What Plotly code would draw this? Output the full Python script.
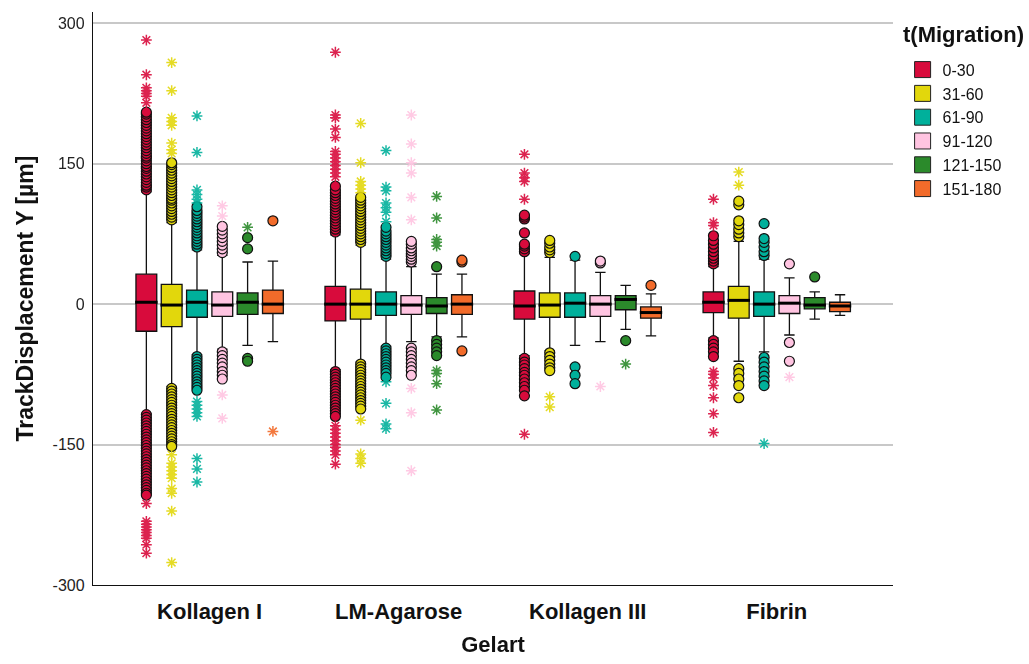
import plotly.graph_objects as go

# ---------------- data ----------------
CATEGORIES = ["Kollagen I", "LM-Agarose", "Kollagen III", "Fibrin"]
SERIES = ["0-30", "31-60", "61-90", "91-120", "121-150", "151-180"]
LEGEND_TITLE = "t(Migration)"
COLORS = ["#d80b3c", "#e2d70c", "#00b09b", "#ffc4e1", "#2b8a2b", "#f26b2a"]

# rows = series, columns = categories
Q1 = [
    [-29, -18, -16, -9],
    [-24, -16, -14, -15],
    [-14, -12, -14, -13],
    [-13, -11, -13, -10],
    [-11, -10, -6, -5],
    [-10, -11, -15, -8],
]
MEDIAN = [
    [2, 0, -2, 2],
    [-1, 0, -1, 4],
    [2, 0, 1, 0],
    [-1, -1, 0, 1],
    [2, -2, 5, -1],
    [0, 0, -9, -2],
]
Q3 = [
    [32, 19, 14, 13],
    [21, 16, 12, 19],
    [15, 13, 12, 13],
    [13, 9, 9, 9],
    [12, 7, 9, 7],
    [15, 10, -3, 2],
]
LOW_WHISKER = [
    [-117, -70, -55, -36],
    [-88, -62, -50, -61],
    [-54, -45, -44, -51],
    [-48, -40, -40, -33],
    [-44, -35, -27, -16],
    [-40, -35, -34, -12],
]
HIGH_WHISKER = [
    [120, 74, 54, 40],
    [87, 63, 50, 67],
    [58, 48, 47, 48],
    [52, 40, 34, 28],
    [45, 32, 20, 13],
    [46, 32, 11, 10],
]

# outliers (circles) and extreme values (stars): rows = series, columns = categories
OUTLIERS = [
    [  # 0-30
        [122, 125, 127, 130, 133, 136, 139, 142, 145, 147, 150, 153, 156, 158, 161, 164, 167, 170,
         173, 176, 179, 182, 185, 188, 191, 194, 197, 200, 203, 205,
         -118, -121, -124, -127, -130, -133, -136, -139, -142, -145, -148, -151, -154, -157, -160,
         -163, -166, -169, -172, -175, -178, -181, -184, -187, -190, -193, -196, -199, -202, -204],
        [77, 80, 83, 86, 89, 92, 95, 98, 101, 104, 107, 110, 113, 116, 119, 122, 126,
         -72, -75, -78, -81, -84, -87, -90, -93, -96, -99, -102, -105, -108, -111, -114, -117, -120],
        [56, 59, 62, 64, 76, 91, 93, 95, -58, -62, -65, -69, -73, -76, -80, -84, -88, -92, -98],
        [43, 46, 49, 52, 56, 60, 64, 68, 73, -39, -43, -47, -51, -56],
    ],
    [  # 31-60
        [90, 93, 96, 99, 102, 105, 108, 111, 113, 116, 119, 122, 125, 128, 131, 134, 137, 140, 143,
         146, 149, 151,
         -90, -93, -96, -99, -102, -105, -108, -111, -114, -117, -120, -123, -126, -129, -132, -135,
         -138, -141, -144, -147, -150, -152],
        [66, 69, 72, 75, 78, 81, 84, 87, 90, 93, 96, 99, 102, 105, 108, 111, 114,
         -64, -67, -70, -73, -76, -79, -82, -85, -88, -91, -94, -97, -100, -103, -106, -109, -112],
        [55, 58, 61, 65, 68, -52, -56, -60, -64, -68, -71],
        [72, 76, 80, 85, 89, 106, 110, -69, -74, -80, -87, -100],
    ],
    [  # 61-90
        [61, 64, 67, 70, 73, 76, 79, 82, 85, 88, 91, 94, 97, 100, 104,
         -56, -59, -62, -65, -68, -71, -74, -77, -80, -83, -86, -89, -92],
        [51, 54, 57, 60, 63, 66, 69, 72, 75, 78, 82, -47, -50, -53, -56, -59, -62, -65, -68, -71, -74, -78],
        [51, -67, -76, -85],
        [52, 56, 61, 66, 70, 86, -57, -62, -67, -72, -77, -82, -87],
    ],
    [  # 91-120
        [55, 59, 63, 67, 71, 75, 79, 83, -51, -55, -59, -63, -67, -72, -76, -80],
        [45, 48, 51, 54, 57, 60, 64, 67, -47, -51, -55, -59, -63, -67, -71, -76],
        [44, 46],
        [43, -41, -61],
    ],
    [  # 121-150
        [59, 71, -58, -61],
        [40, -39, -43, -47, -51, -55],
        [-39],
        [29],
    ],
    [  # 151-180
        [89],
        [45, 47, -50],
        [20],
        [],
    ],
]
EXTREMES = [
    [  # 0-30
        [215, 222, 225, 228, 231, 245, 282, -213, -232, -235, -238, -241, -244, -247, -250, -257, -266],
        [136, 140, 144, 148, 152, 156, 160, 163, 178, 187, 199, 202, 269,
         -130, -134, -138, -142, -146, -150, -153, -157, -161, -171],
        [112, 131, 135, 140, 160, -139],
        [84, 87, 112, -72, -75, -79, -87, -100, -117, -137],
    ],
    [  # 31-60
        [161, 165, 172, 191, 195, 199, 228, 258, -161, -170, -174, -178, -182, -186, -197, -202, -221, -276],
        [119, 123, 127, 131, 151, 193, -124, -160, -165, -170],
        [-99, -110],
        [127, 141],
    ],
    [  # 61-90
        [108, 112, 117, 122, 162, 201, -104, -108, -112, -116, -120, -165, -176, -190],
        [88, 98, 103, 108, 121, 125, 164, -83, -106, -128, -133],
        [],
        [-149],
    ],
    [  # 91-120
        [94, 105, -97, -122],
        [90, 114, 140, 151, 171, 202, -90, -116, -178],
        [-88],
        [-78],
    ],
    [  # 121-150
        [82],
        [62, 66, 69, 92, 115, -71, -74, -85, -113],
        [-64],
        [],
    ],
    [  # 151-180
        [-136],
        [],
        [],
        [],
    ],
]

Y_TICKS = [-300, -150, 0, 150, 300]

# ---------------- layout constants ----------------
FONT = "Liberation Sans, Arial, sans-serif"
SLOT = 0.1339      # distance between boxes inside a group (category units)
BOX_W = 0.11       # box width (category units)

fig = go.Figure()

n_ser = len(SERIES)


def positions(k):
    return [i + (k - (n_ser - 1) / 2) * SLOT for i in range(len(CATEGORIES))]


# boxes
for k, name in enumerate(SERIES):
    fig.add_trace(go.Box(
        x=positions(k), q1=Q1[k], median=MEDIAN[k], q3=Q3[k],
        lowerfence=LOW_WHISKER[k], upperfence=HIGH_WHISKER[k],
        width=BOX_W, whiskerwidth=0.5, boxpoints=False,
        fillcolor=COLORS[k], line=dict(color="#111111", width=1.3),
        showlegend=False, hoverinfo="skip",
    ))

# thick median lines
for k, name in enumerate(SERIES):
    fig.add_trace(go.Scatter(
        x=positions(k), y=MEDIAN[k], mode="markers",
        marker=dict(symbol="line-ew", size=16, color="#000000",
                    line=dict(color="#000000", width=3)),
        showlegend=False, hoverinfo="skip",
    ))

# outliers (circles)
for k, name in enumerate(SERIES):
    xs, ys = [], []
    for i, p in enumerate(positions(k)):
        for v in OUTLIERS[k][i]:
            xs.append(p)
            ys.append(v)
    fig.add_trace(go.Scatter(
        x=xs, y=ys, mode="markers",
        marker=dict(symbol="circle", size=10, color=COLORS[k],
                    line=dict(color="#111111", width=1.2)),
        showlegend=False, hoverinfo="skip",
    ))

# extremes (stars)
for k, name in enumerate(SERIES):
    xs, ys = [], []
    for i, p in enumerate(positions(k)):
        for v in EXTREMES[k][i]:
            xs.append(p)
            ys.append(v)
    fig.add_trace(go.Scatter(
        x=xs, y=ys, mode="markers",
        marker=dict(symbol="asterisk", size=9, color=COLORS[k],
                    line=dict(color=COLORS[k], width=1.5)),
        opacity=0.9, showlegend=False, hoverinfo="skip",
    ))

# legend entries
for k, name in enumerate(SERIES):
    fig.add_trace(go.Scatter(
        x=[None], y=[None], mode="markers", name=name,
        marker=dict(symbol="square", size=16, color=COLORS[k],
                    line=dict(color="#222222", width=1)),
    ))

fig.update_layout(
    width=1029, height=664,
    margin=dict(l=93, r=136, t=12, b=79, autoexpand=False),
    paper_bgcolor="white", plot_bgcolor="white",
    font=dict(family=FONT, color="#111111"),
    showlegend=True,
    legend=dict(
        font=dict(size=16, family=FONT, color="#111111"),
        x=1.012, y=0.929, xanchor="left", yanchor="top",
        bgcolor="rgba(0,0,0,0)", itemsizing="trace",
    ),
    annotations=[dict(
        text="<b>" + LEGEND_TITLE + "</b>", xref="paper", yref="paper",
        x=1.0105, y=0.96, xanchor="left", yanchor="middle", showarrow=False,
        font=dict(size=22, family=FONT, color="#111111"),
    )],
    xaxis=dict(
        range=[-0.617, 3.615],
        tickvals=list(range(len(CATEGORIES))), ticktext=CATEGORIES,
        tickfont=dict(size=22, family=FONT, color="#111111", weight="bold"),
        ticklabelstandoff=6,
        showline=True, linecolor="#111111", linewidth=1.3,
        showgrid=False, zeroline=False, ticks="",
        title=dict(text="<b>Gelart</b>", font=dict(size=22, family=FONT, color="#111111"), standoff=14),
    ),
    yaxis=dict(
        range=[-300, 312],
        tickvals=Y_TICKS, ticktext=[str(v) for v in Y_TICKS],
        tickfont=dict(size=16, family=FONT, color="#222222"),
        ticklabelstandoff=4,
        showline=True, linecolor="#111111", linewidth=1.3,
        showgrid=True, gridcolor="#c8c8c8", gridwidth=1.5,
        zeroline=False, ticks="",
        title=dict(text="<b>TrackDisplacement Y [µm]</b>", font=dict(size=23, family=FONT, color="#111111"), standoff=12),
    ),
)

fig.write_html("out.html")
